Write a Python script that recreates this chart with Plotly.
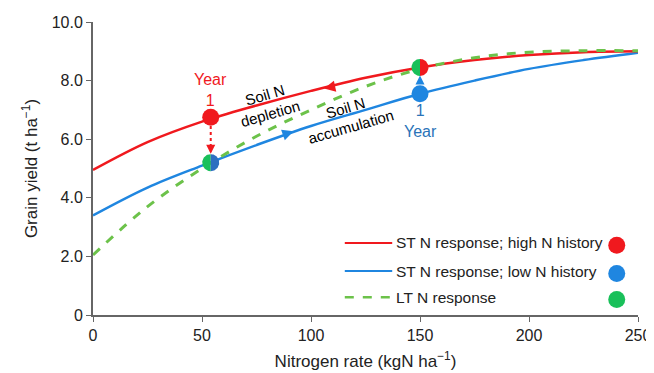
import numpy as np
import plotly.graph_objects as go

# ---------------- data ----------------
n_rate = [0, 25, 50, 75, 100, 125, 150, 175, 200, 225, 250]
yield_high_hist = [4.95, 5.9, 6.6, 7.15, 7.65, 8.1, 8.45, 8.7, 8.87, 8.97, 9.0]
yield_low_hist = [3.4, 4.35, 5.1, 5.8, 6.45, 7.0, 7.55, 8.0, 8.4, 8.7, 8.95]
yield_long_term = [2.05, 3.7, 5.0, 6.1, 7.0, 7.8, 8.4, 8.78, 8.97, 9.02, 9.02]

point_x = [54, 54, 150, 150]
point_y = [6.75, 5.2, 8.45, 7.55]

x_ticks = [0, 50, 100, 150, 200, 250]
y_ticks = [0, 2, 4, 6, 8, 10]
y_tick_labels = ["0", "2.0", "4.0", "6.0", "8.0", "10.0"]

RED = "#f0191e"
BLUE = "#1f86e0"
GREEN = "#6cc24a"
GREEN_DOT = "#19c05a"
FONT = "Liberation Sans, Arial, sans-serif"

# page body has an 8px margin, so the figure is sized/offset to compensate
W, H = 646, 365
ML, MR, MT, MB = 85, 16, 14, 58
XR = [0, 250]
YR = [0, 10]
px_per_x = (W - ML - MR) / (XR[1] - XR[0])
px_per_y = (H - MT - MB) / (YR[1] - YR[0])

fig = go.Figure()

fig.add_trace(go.Scatter(x=n_rate, y=yield_low_hist, mode="lines", line=dict(color=BLUE, width=2.5, shape="spline"),
                         name="ST N response; low N history", showlegend=False))
fig.add_trace(go.Scatter(x=n_rate, y=yield_high_hist, mode="lines", line=dict(color=RED, width=2.5, shape="spline"),
                         name="ST N response; high N history", showlegend=False))
fig.add_trace(go.Scatter(x=n_rate, y=yield_long_term, mode="lines", line=dict(color=GREEN, width=3, dash="dash", shape="spline"),
                         name="LT N response", showlegend=False))


def half_circle(cx, cy, r_px, side, color):
    if side == "left":
        t = np.linspace(np.pi / 2, 3 * np.pi / 2, 40)
    else:
        t = np.linspace(-np.pi / 2, np.pi / 2, 40)
    xs = cx + r_px * np.cos(t) / px_per_x
    ys = cy + r_px * np.sin(t) / px_per_y
    fig.add_trace(go.Scatter(x=list(xs) + [xs[0]], y=list(ys) + [ys[0]], mode="lines", fill="toself",
                             fillcolor=color, line=dict(width=0, color=color), showlegend=False,
                             hoverinfo="skip"))

# full circles
fig.add_trace(go.Scatter(x=[point_x[0], point_x[3]], y=[point_y[0], point_y[3]], mode="markers",
                         marker=dict(size=17, color=[RED, BLUE]), showlegend=False))
# split circles
half_circle(point_x[1], point_y[1], 8.5, "left", GREEN_DOT)
half_circle(point_x[1], point_y[1], 8.5, "right", "#2e6fc0")
half_circle(point_x[2], point_y[2], 8.5, "left", GREEN_DOT)
half_circle(point_x[2], point_y[2], 8.5, "right", RED)

ann = []
# dotted red arrow (vertical)
fig.add_trace(go.Scatter(x=[point_x[0], point_x[0]], y=[point_y[0] - 0.3, point_y[1] + 0.55], mode="lines",
                         line=dict(color=RED, width=2, dash="dot"), showlegend=False))
ann.append(dict(x=point_x[0], y=point_y[1] + 0.3, ax=point_x[0], ay=point_y[1] + 0.6, xref="x", yref="y",
                axref="x", ayref="y", showarrow=True, arrowhead=2, arrowsize=0.9, arrowwidth=2, arrowcolor=RED, text=""))
# blue arrow up
ann.append(dict(x=point_x[2], y=point_y[2] - 0.28, ax=point_x[3], ay=point_y[3] + 0.3, xref="x", yref="y",
                axref="x", ayref="y", showarrow=True, arrowhead=2, arrowsize=0.9, arrowwidth=2, arrowcolor=BLUE, text=""))
# direction arrow on red curve (left)
ann.append(dict(x=106, y=7.73, ax=111, ay=7.81, xref="x", yref="y", axref="x", ayref="y", showarrow=True,
                arrowhead=2, arrowsize=0.9, arrowwidth=2.5, arrowcolor=RED, text=""))
# direction arrow on blue curve (right)
ann.append(dict(x=92, y=6.27, ax=87, ay=6.14, xref="x", yref="y", axref="x", ayref="y", showarrow=True,
                arrowhead=2, arrowsize=0.9, arrowwidth=2.5, arrowcolor=BLUE, text=""))

# text labels
ann.append(dict(x=point_x[0], y=7.68, xref="x", yref="y", text="Year<br>1", showarrow=False,
                font=dict(color=RED, size=16, family=FONT), yanchor="middle"))
ann.append(dict(x=point_x[3], y=6.62, xref="x", yref="y", text="1<br>Year", showarrow=False,
                font=dict(color="#2a73b8", size=16, family=FONT), yanchor="middle"))
ann.append(dict(x=80, y=7.2, xref="x", yref="y", text="Soil N<br>depletion", showarrow=False, textangle=-16,
                font=dict(color="black", size=15, family=FONT)))
ann.append(dict(x=117, y=6.75, xref="x", yref="y", text="Soil N<br>accumulation", showarrow=False, textangle=-16,
                font=dict(color="black", size=15, family=FONT)))

# custom legend
legend_items = [("ST N response; high N history", RED, "solid", RED),
                ("ST N response; low N history", BLUE, "solid", BLUE),
                ("LT N response", GREEN, "dash", GREEN_DOT)]
shapes = []
leg_y = [0.246, 0.150, 0.061]
for (label, col, dash, dotc), yy in zip(legend_items, leg_y):
    shapes.append(dict(type="line", xref="paper", yref="paper", x0=0.462, x1=0.549, y0=yy, y1=yy,
                       line=dict(color=col, width=2.5 if dash == "dash" else 2, dash=dash)))
    ann.append(dict(x=0.553, y=yy, xref="paper", yref="paper", text=label, showarrow=False, xanchor="left",
                    yanchor="middle", font=dict(size=15.5, family=FONT, color="#222")))
    cx, cy = 0.961, yy - 0.008
    rx, ry = 8.5 / (W - ML - MR), 8.5 / (H - MT - MB)
    shapes.append(dict(type="circle", xref="paper", yref="paper", x0=cx - rx, x1=cx + rx, y0=cy - ry, y1=cy + ry,
                       fillcolor=dotc, line=dict(width=0)))

fig.update_layout(
    width=W, height=H,
    margin=dict(l=ML, r=MR, t=MT, b=MB),
    plot_bgcolor="white", paper_bgcolor="white",
    font=dict(family=FONT, size=16, color="#222"),
    annotations=ann, shapes=shapes, showlegend=False,
    xaxis=dict(range=XR, tickvals=x_ticks, showgrid=False, zeroline=False, showline=True, linecolor="#666",
               linewidth=2, ticks="outside", ticklen=5, tickcolor="#666", automargin=False,
               tickfont=dict(size=16),
               title=dict(text="Nitrogen rate (kgN ha<sup>−1</sup>)", font=dict(size=17), standoff=12)),
    yaxis=dict(range=YR, tickvals=y_ticks, ticktext=y_tick_labels, showgrid=False, zeroline=False, showline=True,
               linecolor="#666", linewidth=2, ticks="outside", ticklen=5, tickcolor="#666", automargin=False,
               tickfont=dict(size=16),
               title=dict(text="Grain yield (t ha<sup>−1</sup>)", font=dict(size=17), standoff=10)),
)

fig.write_html("out.html")
